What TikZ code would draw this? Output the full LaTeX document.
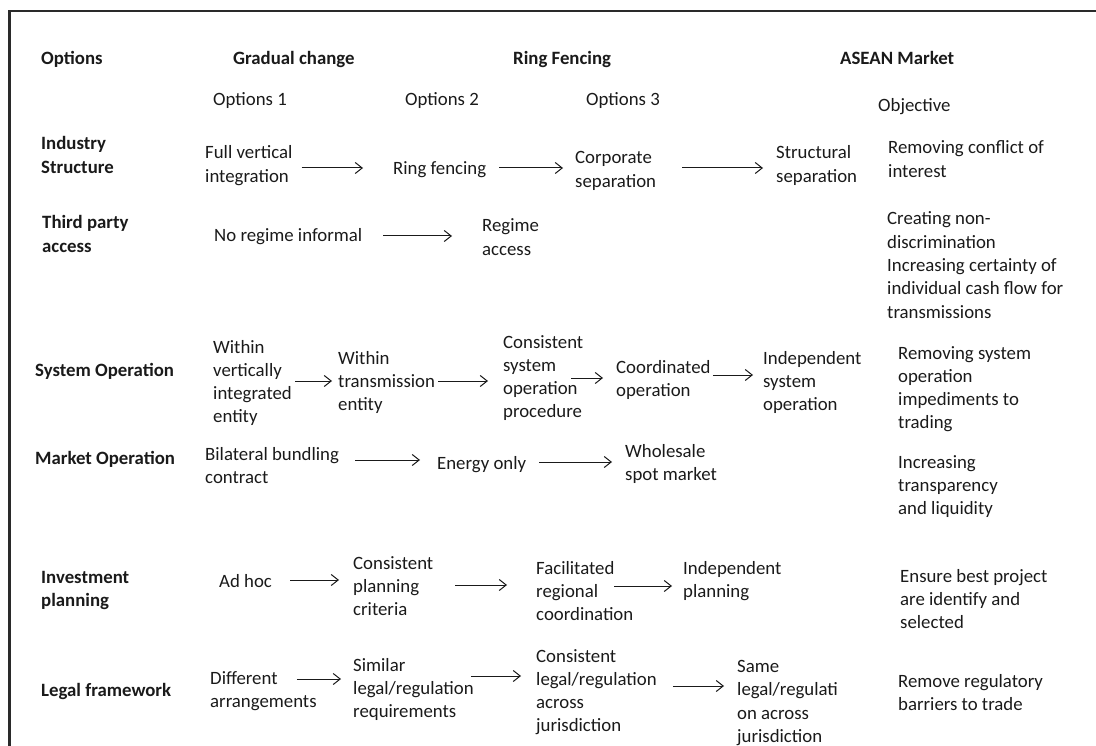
\documentclass[tikz,border=0pt]{standalone}
\usepackage{fontspec}
\setmainfont{Carlito}
\usetikzlibrary{arrows.meta,calc}
\definecolor{ink}{HTML}{1A1A1A}
\definecolor{rule}{HTML}{2A2A2A}
\tikzset{
  tx/.style={anchor=base west, inner sep=0pt, align=left, text=ink,
             yshift=-2pt, font=\fontsize{18.8}{23.3}\selectfont},
  hd/.style={tx, font=\fontsize{18.8}{23.3}\selectfont\bfseries},
  arr/.style={draw=ink, line width=1pt,
              -{Straight Barb[length=7pt,width=11pt,line width=1pt]}},
  frame/.style={draw=rule, line width=2.6pt}
}
% \flowarrow{from}{to}{start gap}{end gap}{y}
\newcommand\flowarrow[5]{%
  \draw[arr] ($(#1.east|-0,#5)+(#3,0)$) -- ($(#2.west|-0,#5)+(-#4,0)$);}
\begin{document}
\begin{tikzpicture}[x=1pt,y=-1pt]
\useasboundingbox (0,0) rectangle (1096,746);

% outer frame (top and left edges)
\coordinate (fA) at (9.5,746);
\coordinate (fB) at (9.5,11);
\coordinate (fC) at (1096,11);
\draw[frame] (fA) -- (fB) -- (fC);

% column headings (node positions give the baseline of the last line)
\node[hd] (hOpt)   at (41,63)  {Options};
\node[hd] (hGrad)  at (233,63) {Gradual change};
\node[hd] (hRing)  at (513,63) {Ring Fencing};
\node[hd] (hAsean) at (840,63) {ASEAN Market};
\node[tx] (o1)  at (213,104) {Options 1};
\node[tx] (o2)  at (405,104) {Options 2};
\node[tx] (o3)  at (586,104) {Options 3};
\node[tx] (obj) at (878,110) {Objective};

% Industry structure
\node[hd] (rIS) at (41,171.3)  {Industry\\Structure};
\node[tx] (fvi) at (205,180.3) {Full vertical\\integration};
\node[tx] (rf)  at (393,173)   {Ring fencing};
\node[tx] (cs)  at (575,185.3) {Corporate\\separation};
\node[tx] (ss)  at (776,180.3) {Structural\\separation};
\node[tx] (gIS) at (888,175.3) {Removing conflict of\\interest};
\flowarrow{fvi}{rf}{9}{30}{168}
\flowarrow{rf}{cs}{13}{12}{168}
\flowarrow{cs}{ss}{26}{13}{168}

% Third party access
\node[hd] (rTPA) at (42,250.3)  {Third party\\access};
\node[tx] (nri)  at (214,240)   {No regime informal};
\node[tx] (ra)   at (482,253.3) {Regime\\access};
\node[tx] (gTPA) at (887,316.2) {Creating non-\\discrimination\\Increasing certainty of\\individual cash flow for\\transmissions};
\flowarrow{nri}{ra}{21}{30}{236}

% System operation
\node[hd] (rSO)  at (35,374)   {System Operation};
\node[tx] (wvie) at (213,420.9) {Within\\vertically\\integrated\\entity};
\node[tx] (wte)  at (338,408.6) {Within\\transmission\\entity};
\node[tx] (csop) at (503,415.9) {Consistent\\system\\operation\\procedure};
\node[tx] (co)   at (616,394.3) {Coordinated\\operation};
\node[tx] (isop) at (763,408.6) {Independent\\system\\operation};
\node[tx] (gSO)  at (898,426.9) {Removing system\\operation\\impediments to\\trading};
\flowarrow{wvie}{wte}{3}{6}{381}
\flowarrow{wte}{csop}{3}{15}{381}
\flowarrow{csop}{co}{-12}{13}{378}
\flowarrow{co}{isop}{2}{10}{375}

% Market operation
\node[hd] (rMO) at (35,462)    {Market Operation};
\node[tx] (bbc) at (205,481.3) {Bilateral bundling\\contract};
\node[tx] (eo)  at (437,467)   {Energy only};
\node[tx] (wsm) at (625,478.3) {Wholesale\\spot market};
\node[tx] (gMO) at (898,512.6) {Increasing\\transparency\\and liquidity};
\flowarrow{bbc}{eo}{16}{17}{460}
\flowarrow{eo}{wsm}{13}{13}{462}

% Investment planning
\node[hd] (rIP) at (41,604.3)  {Investment\\planning};
\node[tx] (ah)  at (219,585)   {Ad hoc};
\node[tx] (cpc) at (353,613.6) {Consistent\\planning\\criteria};
\node[tx] (frc) at (536,618.6) {Facilitated\\regional\\coordination};
\node[tx] (ipl) at (683,595.3) {Independent\\planning};
\node[tx] (gIP) at (900,626.6) {Ensure best project\\are identify and\\selected};
\flowarrow{ah}{cpc}{18}{14}{580}
\flowarrow{cpc}{frc}{22}{29}{585}
\flowarrow{frc}{ipl}{-19}{11}{586}

% Legal framework
\node[hd] (rLF) at (41,694)    {Legal framework};
\node[tx] (da)  at (210,705.3) {Different\\arrangements};
\node[tx] (slr) at (353,715.6) {Similar\\legal/regulation\\requirements};
\node[tx] (clr) at (536,729.9) {Consistent\\legal/regulation\\across\\jurisdiction};
\node[tx] (slj) at (737,740.4) {Same\\legal/regulati\\on across\\jurisdiction};
\node[tx] (gLF) at (898,708.3) {Remove regulatory\\barriers to trade};
\flowarrow{da}{slr}{-20}{12}{679}
\flowarrow{slr}{clr}{-3}{15}{676}
\flowarrow{clr}{slj}{16}{13}{686}
\end{tikzpicture}
\end{document}
